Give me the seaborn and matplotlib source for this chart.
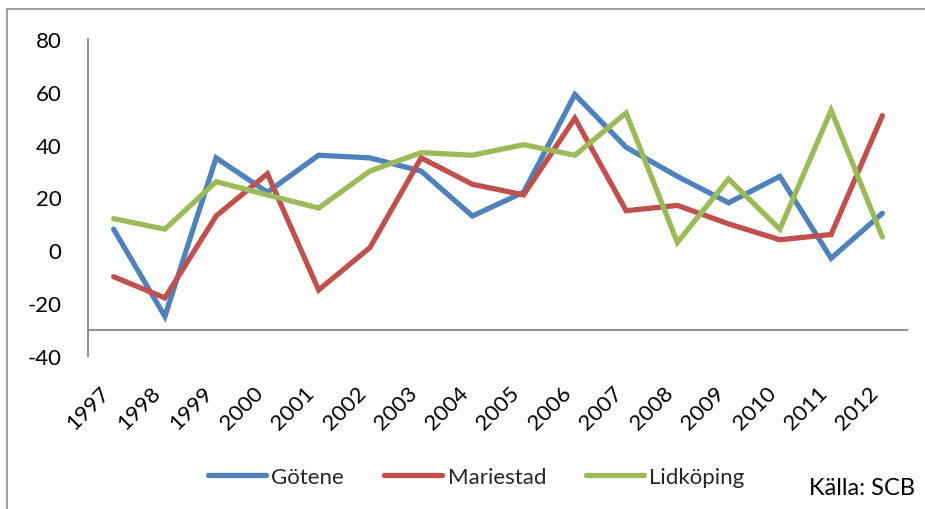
import matplotlib
matplotlib.use("Agg")
import matplotlib.pyplot as plt
from matplotlib.lines import Line2D
import seaborn as sns
import pandas as pd

years = [str(y) for y in range(1997, 2013)]
gotene = [8, -25, 35, 22, 36, 35, 30, 13, 22, 59, 39, 28, 18, 28, -3, 14]
mariestad = [-10, -18, 13, 29, -15, 1, 35, 25, 21, 50, 15, 17, 10, 4, 6, 51]
lidkoping = [12, 8, 26, 21, 16, 30, 37, 36, 40, 36, 52, 3, 27, 8, 53, 5]
series_names = ["Götene", "Mariestad", "Lidköping"]
y_ticks = [-40, -20, 0, 20, 40, 60, 80]

rows = []
for name, vals in zip(series_names, [gotene, mariestad, lidkoping]):
    for i, (yr, v) in enumerate(zip(years, vals)):
        rows.append({"idx": i, "year": yr, "value": v, "kommun": name})
df = pd.DataFrame(rows)

sns.set_theme(style="white")
plt.rcParams["font.family"] = ["Lato", "DejaVu Sans"]

fig = plt.figure(figsize=(9.25, 5.1), dpi=100)
ax = fig.add_axes([88 / 925, 1 - 357 / 510, (908 - 88) / 925, (357 - 40) / 510])

palette = {"Götene": "#4F81BD", "Mariestad": "#C0504D", "Lidköping": "#9BBB59"}
sns.lineplot(data=df, x="idx", y="value", hue="kommun", palette=palette,
             linewidth=3.8, ax=ax, legend=False, sort=False,
             solid_capstyle="round", solid_joinstyle="miter")

ax.set_xlim(-0.5, len(years) - 0.5)
ax.set_ylim(-40, 80)
ax.set_yticks(y_ticks)
ax.set_yticklabels([str(t) for t in y_ticks], fontsize=16, color="black")
ax.set_xticks(range(len(years)))
ax.set_xticklabels(years, rotation=45, ha="right", fontsize=16, color="black")
ax.tick_params(axis="y", length=0, pad=19)
ax.tick_params(axis="x", length=0, pad=19)
ax.set_xlabel("")
ax.set_ylabel("")
for s in ["top", "right", "bottom"]:
    ax.spines[s].set_visible(False)
ax.spines["left"].set_color("#868686")
ax.spines["left"].set_linewidth(1.3)
ax.axhline(-30, color="#868686", linewidth=1.3, zorder=0)

# outer chart frame (partially visible)
fig.add_artist(Line2D([7 / 925, 7 / 925], [0, 1 - 10 / 510], transform=fig.transFigure,
                      color="#8c8c8c", linewidth=1.2))
fig.add_artist(Line2D([7 / 925, 1], [1 - 10 / 510, 1 - 10 / 510], transform=fig.transFigure,
                      color="#8c8c8c", linewidth=1.2))

handles = [Line2D([0], [0], color=palette[n], linewidth=3.8, solid_capstyle="round")
           for n in series_names]
fig.legend(handles, series_names, loc="center", bbox_to_anchor=(0.515, 1 - 478 / 510),
           ncol=3, frameon=False, fontsize=16, handlelength=2.6, handletextpad=0.25,
           columnspacing=1.8)

fig.text(915 / 925, 1 - 489 / 510, "Källa: SCB", ha="right", va="center", fontsize=17,
         color="black")

fig.savefig("out.png", dpi=100)
